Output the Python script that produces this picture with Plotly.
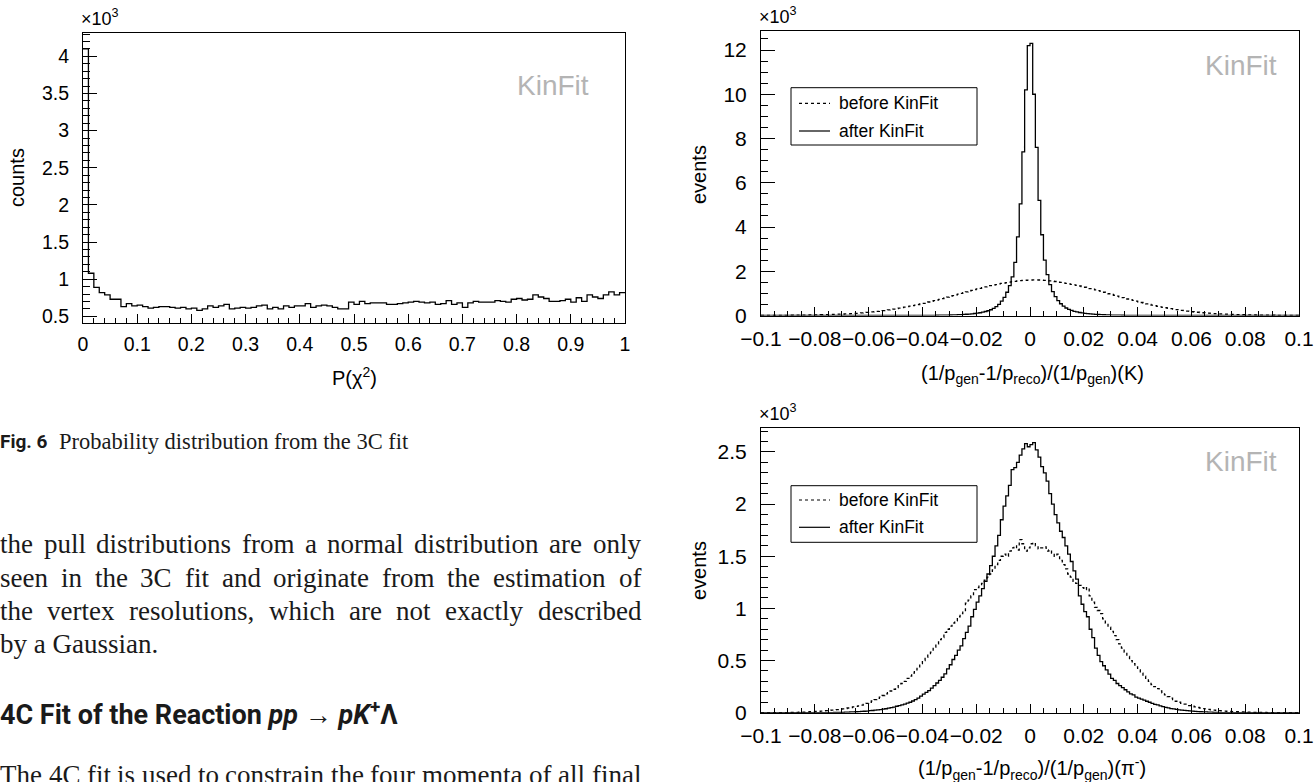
import plotly.graph_objects as go

W, H = 1315, 782

# ---------------- data ----------------
# Fig. 6: P(chi^2) of the 3C fit, 100 bins on [0, 1]; counts in units of 10^3
pchi2_range = [0.0, 1.0]
pchi2_counts = [
    4.10, 1.08, 0.89, 0.82, 0.79, 0.73, 0.73, 0.63, 0.67, 0.64,
    0.65, 0.63, 0.61, 0.62, 0.63, 0.63, 0.62, 0.61, 0.62, 0.60,
    0.61, 0.58, 0.60, 0.64, 0.62, 0.64, 0.66, 0.60, 0.61, 0.62,
    0.61, 0.62, 0.64, 0.65, 0.60, 0.62, 0.60, 0.64, 0.62, 0.64,
    0.64, 0.67, 0.62, 0.64, 0.65, 0.64, 0.62, 0.60, 0.60, 0.69,
    0.66, 0.70, 0.67, 0.68, 0.68, 0.68, 0.66, 0.66, 0.67, 0.68,
    0.69, 0.70, 0.69, 0.68, 0.69, 0.66, 0.67, 0.71, 0.66, 0.68,
    0.62, 0.68, 0.70, 0.69, 0.69, 0.69, 0.71, 0.70, 0.69, 0.73,
    0.74, 0.72, 0.73, 0.79, 0.76, 0.74, 0.70, 0.70, 0.71, 0.73,
    0.69, 0.75, 0.70, 0.79, 0.76, 0.74, 0.79, 0.83, 0.79, 0.82,
]

# Momentum resolution, 200 bins on [-0.1, 0.1]; events in units of 10^3
res_range = [-0.1, 0.1]

k_before = [
    0.001, 0.002, 0.003, 0.002, 0.004, 0.005, 0.006, 0.006, 0.008, 0.009,
    0.010, 0.012, 0.011, 0.014, 0.016, 0.018, 0.019, 0.022, 0.024, 0.026,
    0.029, 0.031, 0.035, 0.037, 0.041, 0.044, 0.048, 0.053, 0.058, 0.063,
    0.068, 0.074, 0.079, 0.086, 0.093, 0.100, 0.108, 0.118, 0.127, 0.138,
    0.150, 0.162, 0.176, 0.190, 0.205, 0.220, 0.236, 0.254, 0.272, 0.291,
    0.312, 0.333, 0.352, 0.375, 0.398, 0.421, 0.447, 0.472, 0.497, 0.523,
    0.552, 0.580, 0.611, 0.640, 0.668, 0.700, 0.731, 0.762, 0.795, 0.828,
    0.862, 0.895, 0.930, 0.962, 0.996, 1.030, 1.064, 1.098, 1.132, 1.166,
    1.200, 1.230, 1.262, 1.290, 1.320, 1.350, 1.375, 1.400, 1.425, 1.448,
    1.470, 1.490, 1.510, 1.528, 1.545, 1.560, 1.572, 1.584, 1.593, 1.600,
    1.605, 1.610, 1.608, 1.604, 1.598, 1.590, 1.580, 1.566, 1.552, 1.537,
    1.518, 1.498, 1.477, 1.455, 1.432, 1.410, 1.385, 1.360, 1.334, 1.306,
    1.278, 1.248, 1.218, 1.186, 1.154, 1.120, 1.086, 1.052, 1.018, 0.984,
    0.950, 0.915, 0.880, 0.846, 0.812, 0.780, 0.746, 0.714, 0.682, 0.650,
    0.620, 0.588, 0.558, 0.528, 0.500, 0.470, 0.444, 0.418, 0.394, 0.370,
    0.350, 0.328, 0.308, 0.288, 0.268, 0.250, 0.232, 0.216, 0.200, 0.185,
    0.170, 0.158, 0.146, 0.134, 0.124, 0.115, 0.106, 0.097, 0.089, 0.082,
    0.075, 0.069, 0.063, 0.058, 0.053, 0.048, 0.044, 0.040, 0.036, 0.033,
    0.030, 0.027, 0.025, 0.022, 0.020, 0.019, 0.017, 0.015, 0.013, 0.012,
    0.011, 0.010, 0.008, 0.007, 0.006, 0.005, 0.004, 0.004, 0.003, 0.003,
]

k_after = [0.0] * 50 + [
    0.001, 0.001, 0.001, 0.002, 0.002, 0.002, 0.003, 0.003, 0.004, 0.004,
    0.005, 0.006, 0.007, 0.008, 0.009, 0.011, 0.013, 0.015, 0.017, 0.020,
    0.023, 0.027, 0.031, 0.036, 0.042, 0.049, 0.057, 0.066, 0.077, 0.090,
    0.105, 0.125, 0.150, 0.180, 0.215, 0.260, 0.320, 0.400, 0.500, 0.650,
    0.820, 1.050, 1.350, 1.750, 2.400, 3.550, 5.050, 7.400, 10.20, 12.20,
    12.30, 10.00, 7.600, 5.200, 3.650, 2.500, 1.850, 1.400, 1.080, 0.850,
    0.670, 0.530, 0.420, 0.340, 0.280, 0.230, 0.190, 0.160, 0.135, 0.115,
    0.098, 0.084, 0.072, 0.062, 0.053, 0.046, 0.040, 0.034, 0.029, 0.025,
    0.021, 0.018, 0.015, 0.013, 0.011, 0.009, 0.008, 0.007, 0.006, 0.005,
    0.004, 0.004, 0.003, 0.003, 0.002, 0.002, 0.002, 0.001, 0.001, 0.001,
] + [0.0] * 50

pi_before = [0.0] * 10 + [
    0.002, 0.003, 0.003, 0.004, 0.005, 0.006, 0.006, 0.008, 0.009, 0.011,
    0.012, 0.014, 0.016, 0.018, 0.020, 0.022, 0.025, 0.027, 0.030, 0.033,
    0.036, 0.040, 0.045, 0.050, 0.055, 0.060, 0.066, 0.072, 0.080, 0.090,
    0.100, 0.112, 0.125, 0.138, 0.150, 0.165, 0.180, 0.192, 0.208, 0.225,
    0.240, 0.260, 0.280, 0.300, 0.330, 0.350, 0.380, 0.410, 0.440, 0.470,
    0.500, 0.530, 0.560, 0.580, 0.630, 0.660, 0.700, 0.720, 0.770, 0.800,
    0.830, 0.860, 0.880, 0.920, 0.950, 0.980, 1.050, 1.080, 1.120, 1.180,
    1.200, 1.220, 1.240, 1.270, 1.300, 1.330, 1.370, 1.420, 1.460, 1.500,
    1.520, 1.500, 1.550, 1.580, 1.600, 1.560, 1.660, 1.620, 1.550, 1.580,
    1.620, 1.630, 1.600, 1.570, 1.580, 1.590, 1.550, 1.560, 1.530, 1.500,
    1.520, 1.460, 1.420, 1.380, 1.330, 1.300, 1.260, 1.240, 1.220, 1.200,
    1.180, 1.200, 1.120, 1.060, 1.010, 0.980, 0.950, 0.900, 0.860, 0.820,
    0.780, 0.740, 0.700, 0.660, 0.620, 0.580, 0.540, 0.500, 0.470, 0.440,
    0.410, 0.380, 0.350, 0.320, 0.300, 0.270, 0.250, 0.230, 0.210, 0.190,
    0.170, 0.155, 0.140, 0.125, 0.110, 0.100, 0.090, 0.082, 0.075, 0.068,
    0.062, 0.056, 0.050, 0.045, 0.040, 0.036, 0.032, 0.028, 0.025, 0.022,
    0.020, 0.018, 0.016, 0.014, 0.012, 0.011, 0.010, 0.009, 0.008, 0.007,
    0.006, 0.005, 0.005, 0.004, 0.003, 0.003, 0.002, 0.002, 0.001, 0.001,
] + [0.0] * 10

pi_after = [0.0] * 25 + [
    0.001, 0.001, 0.002, 0.002, 0.003,
    0.004, 0.005, 0.006, 0.007, 0.008, 0.009, 0.010, 0.012, 0.014, 0.016,
    0.019, 0.021, 0.024, 0.027, 0.030, 0.034, 0.038, 0.043, 0.048, 0.054,
    0.062, 0.068, 0.075, 0.083, 0.092, 0.100, 0.112, 0.125, 0.140, 0.158,
    0.178, 0.195, 0.212, 0.236, 0.260, 0.285, 0.310, 0.340, 0.372, 0.420,
    0.460, 0.510, 0.550, 0.600, 0.640, 0.710, 0.770, 0.830, 0.920, 0.990,
    1.060, 1.120, 1.190, 1.260, 1.330, 1.410, 1.500, 1.600, 1.700, 1.850,
    1.980, 2.080, 2.180, 2.330, 2.350, 2.400, 2.470, 2.530, 2.580, 2.550,
    2.570, 2.590, 2.520, 2.450, 2.360, 2.300, 2.220, 2.100, 2.000, 1.900,
    1.820, 1.740, 1.680, 1.600, 1.520, 1.450, 1.360, 1.280, 1.120, 1.040,
    0.970, 0.920, 0.800, 0.720, 0.620, 0.550, 0.490, 0.450, 0.410, 0.370,
    0.330, 0.310, 0.280, 0.260, 0.240, 0.220, 0.200, 0.180, 0.170, 0.150,
    0.140, 0.130, 0.120, 0.110, 0.100, 0.090, 0.080, 0.075, 0.065, 0.058,
    0.052, 0.046, 0.040, 0.036, 0.032, 0.028, 0.025, 0.022, 0.019, 0.017,
    0.015, 0.013, 0.011, 0.009, 0.008, 0.007, 0.006, 0.005, 0.004, 0.003,
] + [0.0] * 30

legend_labels = ["before KinFit", "after KinFit"]
x_titles = ["P(χ<sup>2</sup>)",
            "(1/p<sub>gen</sub>-1/p<sub>reco</sub>)/(1/p<sub>gen</sub>)(K)",
            "(1/p<sub>gen</sub>-1/p<sub>reco</sub>)/(1/p<sub>gen</sub>)(π<sup>-</sup>)"]
y_titles = ["counts", "events", "events"]

caption_label = "Fig. 6"
caption_text = "Probability distribution from the 3C fit"
body_lines = [
    "the pull distributions from a normal distribution are only",
    "seen in the 3C fit and originate from the estimation of",
    "the vertex resolutions, which are not exactly described",
    "by a Gaussian.",
]
heading = "4C Fit of the Reaction <i>pp</i> → <i>pK</i><sup>+</sup>Λ"
last_line = "The 4C fit is used to constrain the four momenta of all final"

# ---------------- layout helpers ----------------
SANS = "Liberation Sans, Arial, sans-serif"
SERIF = "Liberation Serif, Times New Roman, serif"


def px(x):
    return x / W


def py(y):
    return 1 - y / H


def step_xy(rng, vals):
    n = len(vals)
    w = (rng[1] - rng[0]) / n
    xs = [rng[0] + i * w for i in range(n + 1)]
    ys = list(vals) + [vals[-1]]
    return xs, ys


# frames in pixels: (left, top, right, bottom)
F1 = (83, 33, 625, 323)
F2 = (761, 31, 1299, 315.5)
F3 = (761, 428.3, 1299, 712.7)

fig = go.Figure()


def add_hist(rng, vals, xa, ya, dash):
    xs, ys = step_xy(rng, vals)
    fig.add_trace(go.Scatter(
        x=xs, y=ys, mode="lines", line=dict(shape="hv", color="black", width=1.3, dash=dash),
        xaxis=xa, yaxis=ya, showlegend=False, hoverinfo="skip"))


add_hist(pchi2_range, pchi2_counts, "x", "y", "solid")
add_hist(res_range, k_before, "x2", "y2", "3px,3px")
add_hist(res_range, k_after, "x2", "y2", "solid")
add_hist(res_range, pi_before, "x3", "y3", "3px,3px")
add_hist(res_range, pi_after, "x3", "y3", "solid")


def xaxis(frame, rng, dtick, minor, anchor, fs):
    return dict(domain=[px(frame[0]), px(frame[2])], range=rng, anchor=anchor, automargin=False,
                tick0=0, dtick=dtick, ticks="inside", ticklen=9, tickwidth=1, tickcolor="black",
                minor=dict(dtick=minor, ticks="inside", ticklen=5, tickwidth=1, tickcolor="black", showgrid=False),
                showline=True, linecolor="black", linewidth=1, mirror=True,
                showgrid=False, zeroline=False, tickangle=0, ticklabelstandoff=4,
                tickfont=dict(family=SANS, size=fs, color="black"))


def yaxis(frame, rng, tick0, dtick, minor, anchor, fs):
    return dict(domain=[py(frame[3]), py(frame[1])], range=rng, anchor=anchor, automargin=False,
                tick0=tick0, dtick=dtick, ticks="inside", ticklen=14, tickwidth=1, tickcolor="black",
                minor=dict(dtick=minor, ticks="inside", ticklen=7, tickwidth=1, tickcolor="black", showgrid=False),
                showline=True, linecolor="black", linewidth=1, mirror=True,
                showgrid=False, zeroline=False, ticklabelstandoff=9,
                tickfont=dict(family=SANS, size=fs, color="black"))


fig.update_layout(
    width=W, height=H, margin=dict(l=0, r=0, t=0, b=0, pad=0, autoexpand=False),
    paper_bgcolor="white", plot_bgcolor="white", showlegend=False,
    xaxis=xaxis(F1, [0, 1], 0.1, 0.02, "y", 19.5),
    yaxis=yaxis(F1, [0.41, 4.315], 0.5, 0.5, 0.1, "x", 19.5),
    xaxis2=xaxis(F2, [-0.1, 0.1], 0.02, 0.005, "y2", 21),
    yaxis2=yaxis(F2, [0, 12.86], 0, 2, 0.5, "x2", 21),
    xaxis3=xaxis(F3, [-0.1, 0.1], 0.02, 0.005, "y3", 21),
    yaxis3=yaxis(F3, [0, 2.727], 0, 0.5, 0.1, "x3", 21),
)

ann = []


def text(s, x, y, size, family=SANS, color="black", xanchor="center", yanchor="middle", angle=0):
    ann.append(dict(text=s, x=px(x), y=py(y), xref="paper", yref="paper", showarrow=False,
                    xanchor=xanchor, yanchor=yanchor, textangle=angle,
                    font=dict(family=family, size=size, color=color)))


# x10^3 labels
text("×10<sup>3</sup>", 79, 31, 18, xanchor="left", yanchor="bottom")
text("×10<sup>3</sup>", 757, 29, 18, xanchor="left", yanchor="bottom")
text("×10<sup>3</sup>", 757, 426, 18, xanchor="left", yanchor="bottom")

# KinFit labels
text("KinFit", 515, 85, 28, color="#b4b4b4", xanchor="left")
text("KinFit", 1203, 65, 28, color="#b4b4b4", xanchor="left")
text("KinFit", 1203, 462, 28, color="#b4b4b4", xanchor="left")

# axis titles
text(y_titles[0], 17, 178, 20, angle=-90)
text(y_titles[1], 699, 174, 20, angle=-90)
text(y_titles[2], 699, 570, 20, angle=-90)
text(x_titles[0], 354, 362, 20, yanchor="top")
text(x_titles[1], 1032, 360, 20, yanchor="top")
text(x_titles[2], 1032, 752, 20, yanchor="top")

shapes = []
# legends
for (top, bot, y_b, y_a) in [(87.7, 145, 103.3, 131), (485.7, 542.3, 500, 527.3)]:
    shapes.append(dict(type="rect", xref="paper", yref="paper", x0=px(791), x1=px(977),
                       y0=py(bot), y1=py(top), line=dict(color="black", width=1), fillcolor="white"))
    shapes.append(dict(type="line", xref="paper", yref="paper", x0=px(799), x1=px(830),
                       y0=py(y_b), y1=py(y_b), line=dict(color="black", width=1.2, dash="3px,3px")))
    shapes.append(dict(type="line", xref="paper", yref="paper", x0=px(799), x1=px(830),
                       y0=py(y_a), y1=py(y_a), line=dict(color="black", width=1.2)))
    text(legend_labels[0], 837, y_b, 17.5, xanchor="left")
    text(legend_labels[1], 837, y_a, 17.5, xanchor="left")

# ---------------- page text ----------------
TW = {'a': .444, 'b': .5, 'c': .444, 'd': .5, 'e': .444, 'f': .333, 'g': .5, 'h': .5, 'i': .278,
      'j': .278, 'k': .5, 'l': .278, 'm': .778, 'n': .5, 'o': .5, 'p': .5, 'q': .5, 'r': .333,
      's': .389, 't': .278, 'u': .5, 'v': .5, 'w': .722, 'x': .5, 'y': .5, 'z': .444,
      ',': .25, '.': .25, '3': .5, '4': .5, 'C': .667, 'G': .722, 'T': .611, ' ': .25}


def tw(s, size):
    return sum(TW.get(c, 0.5) for c in s) * size


def justified(line, yc, size, x0=0, x1=641):
    words = line.split()
    widths = [tw(w, size) for w in words]
    gap = (x1 - x0 - sum(widths)) / (len(words) - 1)
    x = x0
    for w, wd in zip(words, widths):
        text(w, x - 2, yc, size, family=SERIF, color="#1a1a1a", xanchor="left")
        x += wd + gap


text("<b>" + caption_label + "</b>", -2, 441, 19, family="Roboto, sans-serif", color="#1a1a1a", xanchor="left")
text(caption_text, 57, 441, 22.5, family=SERIF, color="#1a1a1a", xanchor="left")
for i, ln in enumerate(body_lines[:3]):
    justified(ln, [544, 578, 611][i], 27)
text(body_lines[3], -2, 644, 27, family=SERIF, color="#1a1a1a", xanchor="left")
text("<b>" + heading + "</b>", -2, 713, 27, family="Roboto, sans-serif", color="#1a1a1a", xanchor="left")
justified(last_line, 775, 27)

fig.update_layout(annotations=ann, shapes=shapes)
fig.write_html("out.html", config={"displayModeBar": False, "staticPlot": True},
               post_script="document.body.style.margin='0';document.body.style.overflow='hidden';")
